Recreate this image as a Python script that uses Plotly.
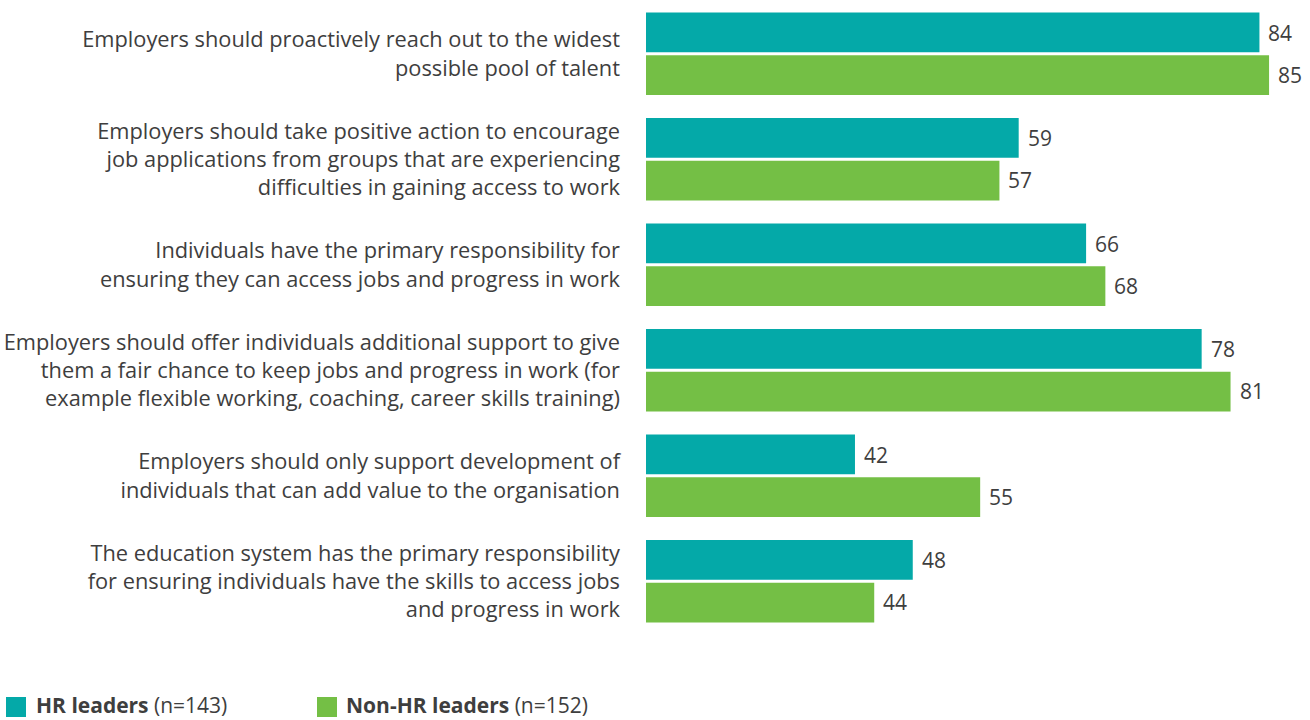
import plotly.graph_objects as go

# Survey statements (y categories, top to bottom)
statements = [
    "Employers should proactively reach out to the widest<br>possible pool of talent",
    "Employers should take positive action to encourage<br>job applications from groups that are experiencing<br>difficulties in gaining access to work",
    "Individuals have the primary responsibility for<br>ensuring they can access jobs and progress in work",
    "Employers should offer individuals additional support to give<br>them a fair chance to keep jobs and progress in work (for<br>example flexible working, coaching, career skills training)",
    "Employers should only support development of<br>individuals that can add value to the organisation",
    "The education system has the primary responsibility<br>for ensuring individuals have the skills to access jobs<br>and progress in work",
]

hr_leaders = [84, 59, 66, 78, 42, 48]
non_hr_leaders = [85, 57, 68, 81, 55, 44]

series_names = ["HR leaders", "Non-HR leaders"]
series_n = ["(n=143)", "(n=152)"]

TEAL = "#04A9A8"
GREEN = "#74BF45"
TEXT = "#3E3E3E"
FONT = "Open Sans"

W, H = 1310, 720
ML, MR, MT, MB = 646, 0, 1, 86

fig = go.Figure()
for name, vals, col in [(series_names[0], hr_leaders, TEAL),
                        (series_names[1], non_hr_leaders, GREEN)]:
    fig.add_trace(go.Bar(
        y=statements, x=vals, name=name, orientation="h",
        marker=dict(color=col, line=dict(width=0)),
        hoverinfo="x+name",
    ))

# value labels at the end of each bar
annotations = []
for vals, offset in [(hr_leaders, -0.2), (non_hr_leaders, 0.2)]:
    for i, v in enumerate(vals):
        annotations.append(dict(
            x=v, y=i + offset, xref="x", yref="y",
            text=str(v), showarrow=False, xanchor="left", yanchor="middle",
            xshift=7, font=dict(family=FONT, size=21, color=TEXT),
        ))

# legend drawn along the bottom edge
pw = W - ML - MR
ph = H - MT - MB
def px_x(p):
    return (p - ML) / pw
def px_y(p):
    return (H - MB - p) / ph

shapes = []
for (x0, col, name, n, tx) in [(6, TEAL, series_names[0], series_n[0], 34),
                               (317, GREEN, series_names[1], series_n[1], 344)]:
    shapes.append(dict(type="rect", xref="paper", yref="paper",
                       x0=px_x(x0), x1=px_x(x0 + 20),
                       y0=px_y(717), y1=px_y(697),
                       fillcolor=col, line=dict(width=0)))
    annotations.append(dict(
        x=px_x(tx), y=px_y(705), xref="paper", yref="paper",
        text=f"<b>{name}</b> {n}", showarrow=False,
        xanchor="left", yanchor="middle",
        font=dict(family=FONT, size=21, color=TEXT),
    ))

fig.update_layout(
    width=W, height=H,
    margin=dict(l=ML, r=MR, t=MT, b=MB, pad=0),
    barmode="group", bargap=0.19, bargroupgap=0.07,
    plot_bgcolor="white", paper_bgcolor="white",
    showlegend=False,
    font=dict(family=FONT, size=21, color=TEXT),
    xaxis=dict(range=[20.3, 89.25], visible=False, fixedrange=True),
    yaxis=dict(autorange="reversed", showgrid=False, zeroline=False,
               showline=False, ticks="", ticklabelstandoff=25,
               tickfont=dict(family=FONT, size=21.8, color=TEXT)),
    annotations=annotations, shapes=shapes,
)

fig.write_html("out.html")
